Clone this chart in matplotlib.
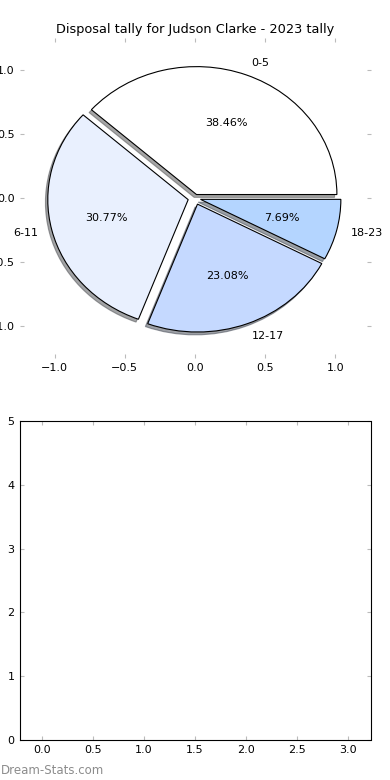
import matplotlib
matplotlib.use('Agg')
import matplotlib.pyplot as plt

# disposal counts per bucket, 2023
labels = ['0-5', '6-11', '12-17', '18-23']
counts = [5, 4, 3, 1]
colors = ['#ffffff', '#e9f0fe', '#c5d9ff', '#b4d5ff']
explode = [0.03, 0.05, 0.05, 0.04]

x_ticks = [0.0, 0.5, 1.0, 1.5, 2.0, 2.5, 3.0]
y_ticks = [0, 1, 2, 3, 4, 5]

plt.rcParams['font.family'] = ['DejaVu Sans']
plt.rcParams['font.size'] = 8

fig = plt.figure(figsize=(3.9, 7.8), dpi=100)

# top: pie, frame off but ticks kept
ax1 = fig.add_axes([0.05, 0.541, 0.90, 0.410])
ax1.pie(counts, labels=labels, colors=colors, explode=explode,
        autopct='%1.2f%%', startangle=0,
        shadow={'ox': -0.012, 'oy': -0.016},
        wedgeprops={'edgecolor': 'black', 'linewidth': 0.8},
        textprops={'fontsize': 8}, frame=True)
ax1.set_aspect('auto')
ax1.set_xlim(-1.25, 1.25)
ax1.set_ylim(-1.25, 1.25)
ax1.set_xticks([-1.0, -0.5, 0.0, 0.5, 1.0])
ax1.set_yticks([-1.0, -0.5, 0.0, 0.5, 1.0])
for s in ax1.spines.values():
    s.set_visible(False)
ax1.tick_params(direction='in', length=3, color='#bbbbbb',
                top=True, right=True, labelsize=8)
ax1.set_title('Disposal tally for Judson Clarke - 2023 tally', fontsize=9.3, pad=4)

# bottom: empty panel
ax2 = fig.add_axes([0.05, 0.0513, 0.90, 0.4087])
ax2.set_xlim(-0.216, 3.216)
ax2.set_ylim(0, 5)
ax2.set_xticks(x_ticks)
ax2.set_yticks(y_ticks)
ax2.tick_params(direction='in', length=3, color='#bbbbbb',
                top=True, right=True, labelsize=8)

fig.text(0.003, 0.012, 'Dream-Stats.com', color='#8c8c8c', fontsize=8.5,
         ha='left', va='center')

fig.savefig('out.png', dpi=100)
